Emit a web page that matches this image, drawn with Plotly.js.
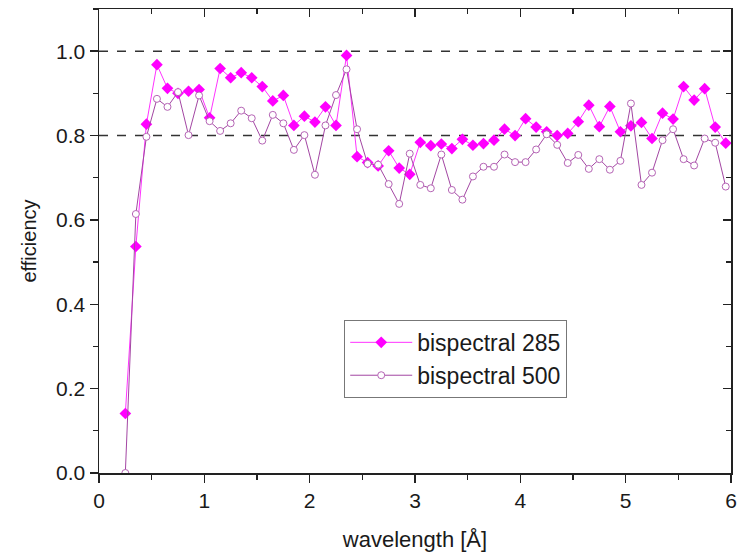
<!DOCTYPE html>
<html>
<head>
<meta charset="utf-8">
<script src="https://cdn.plot.ly/plotly-3.0.1.min.js"></script>
<style>html,body{margin:0;padding:0;background:#fff;}#chart{width:746px;height:553px;}</style>
</head>
<body>
<div id="chart"></div>
<script>
const wavelength = [0.25, 0.35, 0.45, 0.55, 0.65, 0.75, 0.85, 0.95, 1.05, 1.15,
  1.25, 1.35, 1.45, 1.55, 1.65, 1.75, 1.85, 1.95, 2.05, 2.15,
  2.25, 2.35, 2.45, 2.55, 2.65, 2.75, 2.85, 2.95, 3.05, 3.15,
  3.25, 3.35, 3.45, 3.55, 3.65, 3.75, 3.85, 3.95, 4.05, 4.15,
  4.25, 4.35, 4.45, 4.55, 4.65, 4.75, 4.85, 4.95, 5.05, 5.15,
  5.25, 5.35, 5.45, 5.55, 5.65, 5.75, 5.85, 5.95];
const eff285 = [0.141, 0.537, 0.827, 0.968, 0.912, 0.900, 0.905, 0.909, 0.842, 0.959,
  0.937, 0.949, 0.937, 0.916, 0.882, 0.895, 0.824, 0.846, 0.832, 0.868,
  0.824, 0.990, 0.750, 0.736, 0.728, 0.764, 0.723, 0.708, 0.784, 0.776,
  0.780, 0.769, 0.791, 0.777, 0.781, 0.789, 0.815, 0.800, 0.840, 0.820,
  0.809, 0.800, 0.805, 0.833, 0.872, 0.821, 0.869, 0.809, 0.823, 0.831,
  0.793, 0.853, 0.839, 0.916, 0.884, 0.911, 0.820, 0.782];
const eff500 = [0.000, 0.614, 0.797, 0.887, 0.868, 0.903, 0.801, 0.895, 0.834, 0.811,
  0.829, 0.859, 0.841, 0.788, 0.849, 0.829, 0.766, 0.801, 0.707, 0.824,
  0.896, 0.957, 0.815, 0.733, 0.731, 0.685, 0.638, 0.757, 0.683, 0.675,
  0.755, 0.671, 0.648, 0.703, 0.726, 0.726, 0.755, 0.737, 0.737, 0.767,
  0.803, 0.778, 0.735, 0.754, 0.721, 0.744, 0.719, 0.740, 0.876, 0.683,
  0.712, 0.789, 0.815, 0.744, 0.729, 0.793, 0.783, 0.679];
const seriesNames = ['bispectral 285', 'bispectral 500'];
const refLines = [0.8, 1.0];
const xTickVals = [0, 1, 2, 3, 4, 5, 6];
const yTickVals = [0.0, 0.2, 0.4, 0.6, 0.8, 1.0];
const yTickText = ['0.0', '0.2', '0.4', '0.6', '0.8', '1.0'];

const FONT = '"Liberation Sans", Arial, sans-serif';
const TXT = '#1a1a1a';

const traces = [
  {
    x: wavelength, y: eff285, name: seriesNames[0], type: 'scatter', mode: 'lines+markers',
    line: {color: '#ff33ff', width: 1},
    marker: {symbol: 'diamond', size: 9, color: '#ff00ff', line: {color: '#ff00ff', width: 0}}
  },
  {
    x: wavelength, y: eff500, name: seriesNames[1], type: 'scatter', mode: 'lines+markers',
    line: {color: '#a346a3', width: 1},
    marker: {symbol: 'circle', size: 7, color: '#ffffff', line: {color: '#b564b5', width: 1}}
  }
];

const shapes = refLines.map(v => ({
  type: 'line', xref: 'paper', yref: 'y', x0: 0, x1: 1, y0: v, y1: v,
  line: {color: '#333333', width: 1.5, dash: 'dash'}, layer: 'below'
}));

const layout = {
  width: 746, height: 553,
  margin: {l: 99, r: 15, t: 9, b: 80},
  paper_bgcolor: '#ffffff', plot_bgcolor: '#ffffff',
  font: {family: FONT, size: 21, color: TXT},
  showlegend: true,
  legend: {
    x: 0.388, y: 0.33, xanchor: 'left', yanchor: 'top',
    bgcolor: '#ffffff', bordercolor: '#777777', borderwidth: 1,
    font: {family: FONT, size: 23, color: TXT},
    tracegroupgap: 0, itemwidth: 62
  },
  shapes: shapes,
  xaxis: {
    range: [0, 6], tickvals: xTickVals, ticks: 'outside', ticklen: 8, tickwidth: 1.5, tickcolor: '#222',
    minor: {dtick: 0.5, ticks: 'outside', ticklen: 5, tickwidth: 1.2, tickcolor: '#222', showgrid: false},
    showline: true, linecolor: '#222', linewidth: 1.5, mirror: true,
    showgrid: false, zeroline: false,
    tickfont: {family: FONT, size: 21, color: TXT},
    title: {text: 'wavelength [Å]', font: {family: FONT, size: 22, color: TXT}, standoff: 21},
    automargin: false
  },
  yaxis: {
    range: [0, 1.1], tickvals: yTickVals, ticktext: yTickText, ticks: 'outside', ticklen: 8, tickwidth: 1.5, tickcolor: '#222',
    minor: {dtick: 0.1, tick0: 0, ticks: 'outside', ticklen: 5, tickwidth: 1.2, tickcolor: '#222', showgrid: false},
    showline: true, linecolor: '#222', linewidth: 1.5, mirror: true,
    showgrid: false, zeroline: false,
    tickfont: {family: FONT, size: 21, color: TXT},
    title: {text: 'efficiency', font: {family: FONT, size: 20, color: TXT}, standoff: 14},
    automargin: false
  },
  xaxis2: {
    overlaying: 'x', side: 'top', range: [0, 6], tickvals: xTickVals, showticklabels: false,
    ticks: 'inside', ticklen: 8, tickwidth: 1.5, tickcolor: '#222',
    minor: {dtick: 0.5, ticks: 'inside', ticklen: 5, tickwidth: 1.2, tickcolor: '#222', showgrid: false},
    showline: false, showgrid: false, zeroline: false, fixedrange: true
  },
  yaxis2: {
    overlaying: 'y', side: 'right', range: [0, 1.1], tickvals: yTickVals, showticklabels: false,
    ticks: 'inside', ticklen: 8, tickwidth: 1.5, tickcolor: '#222',
    minor: {dtick: 0.1, tick0: 0, ticks: 'inside', ticklen: 5, tickwidth: 1.2, tickcolor: '#222', showgrid: false},
    showline: false, showgrid: false, zeroline: false, fixedrange: true
  }
};

// invisible helper trace so the top/right tick axes are drawn
traces.push({x: [0, 6], y: [0, 1.1], xaxis: 'x2', yaxis: 'y2', type: 'scatter', mode: 'markers',
  marker: {opacity: 0}, showlegend: false, hoverinfo: 'skip'});

Plotly.newPlot('chart', traces, layout, {displayModeBar: false, staticPlot: true});
</script>
</body>
</html>
